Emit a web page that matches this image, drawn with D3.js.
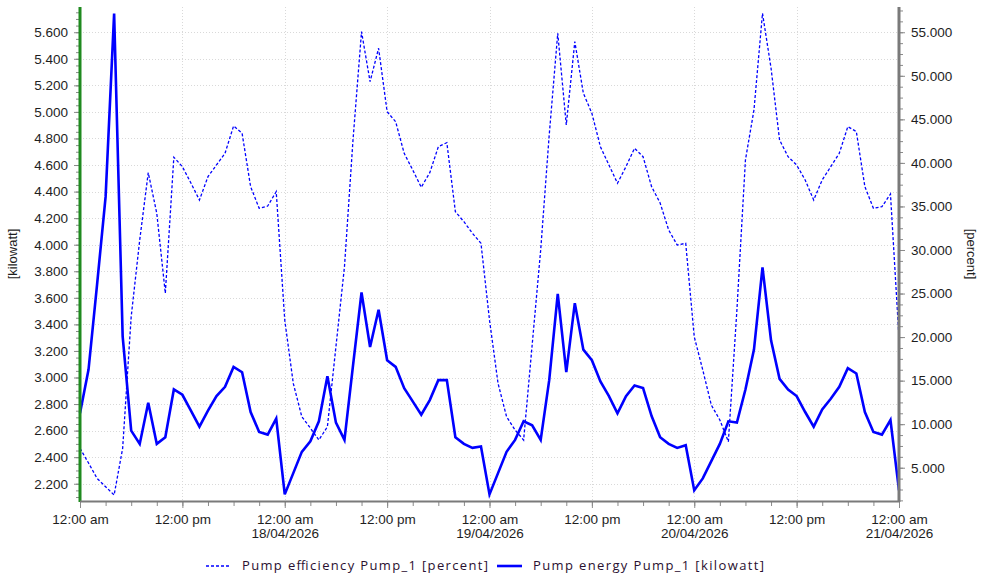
<!DOCTYPE html>
<html>
<head>
<meta charset="utf-8">
<script src="https://cdn.jsdelivr.net/npm/d3@7"></script>
<style>
  body { margin: 0; background: #fff; }
  svg { display: block; }
</style>
</head>
<body>
<svg id="chart" width="982" height="577"></svg>
<script>
// Hourly samples, 17/04/2026 00:00 to 21/04/2026 00:00
const startTime = new Date(2026, 3, 17, 0, 0, 0);
const stepHours = 1;

const energyKw = [
  2.73, 3.06, 3.70, 4.36, 5.74, 3.31, 2.60, 2.50, 2.81, 2.50, 2.55, 2.91,
  2.87, 2.75, 2.63, 2.75, 2.86, 2.93, 3.08, 3.04, 2.74, 2.59, 2.57, 2.69,
  2.12, 2.28, 2.44, 2.52, 2.67, 3.01, 2.66, 2.53, 3.09, 3.64, 3.23, 3.51,
  3.13, 3.08, 2.92, 2.82, 2.72, 2.83, 2.98, 2.98, 2.55, 2.50, 2.47, 2.48,
  2.12, 2.28, 2.44, 2.53, 2.67, 2.64, 2.53, 2.98, 3.63, 3.04, 3.56, 3.21,
  3.13, 2.97, 2.86, 2.73, 2.86, 2.94, 2.92, 2.71, 2.55, 2.50, 2.47, 2.49,
  2.15, 2.24, 2.37, 2.50, 2.67, 2.66, 2.91, 3.21, 3.83, 3.28, 2.99, 2.91,
  2.86, 2.74, 2.63, 2.76, 2.84, 2.93, 3.07, 3.03, 2.74, 2.59, 2.57, 2.68,
  2.15
];

const efficiencyPct = [
  7.23, 5.54, 3.78, 2.82, 1.87, 7.23, 22.34, 31.15, 38.88, 34.21, 25.03, 40.65,
  39.57, 37.69, 35.74, 38.42, 39.76, 41.10, 44.24, 43.40, 37.27, 34.79, 35.05, 36.69,
  21.96, 14.69, 10.86, 9.56, 8.18, 9.71, 18.90, 28.08, 42.63, 55.07, 49.33, 53.16,
  45.88, 44.73, 41.10, 39.19, 37.20, 38.88, 41.86, 42.32, 34.40, 33.25, 31.92, 30.77,
  21.96, 14.69, 10.86, 9.33, 8.18, 19.09, 30.00, 43.21, 54.89, 44.35, 53.92, 48.00,
  45.70, 41.86, 39.76, 37.66, 39.57, 41.68, 40.71, 37.27, 35.40, 32.30, 30.57, 30.77,
  20.04, 16.22, 12.20, 10.48, 7.99, 23.11, 40.34, 46.08, 57.18, 50.90, 42.63, 40.71,
  39.76, 38.04, 35.74, 38.04, 39.57, 41.10, 44.16, 43.59, 37.27, 34.79, 34.97, 36.43,
  19.89
];

const energyTicks = [2.2, 2.4, 2.6, 2.8, 3.0, 3.2, 3.4, 3.6, 3.8, 4.0, 4.2, 4.4, 4.6, 4.8, 5.0, 5.2, 5.4, 5.6];
const efficiencyTicks = [5, 10, 15, 20, 25, 30, 35, 40, 45, 50, 55];
const energyDomain = [2.07, 5.79];
const efficiencyDomain = [1.18, 57.9];
const endTime = new Date(2026, 3, 21, 0, 0, 0);

const seriesNames = ["Pump efficiency Pump_1 [percent]", "Pump energy Pump_1 [kilowatt]"];
const axisTitles = ["[kilowatt]", "[percent]"];

// ---- layout ----
const plot = { left: 80, right: 899, top: 7, bottom: 501 };
const lineBlue = "#0000ff";
const tickFont = "'Liberation Sans', Arial, sans-serif";
const legendFont = "'Open Sans', 'DejaVu Sans', sans-serif";

const svg = d3.select("#chart");

const times = energyKw.map((_, i) => new Date(startTime.getTime() + i * stepHours * 3600e3));

const x = d3.scaleTime().domain([startTime, endTime]).range([plot.left, plot.right]);
const yKw = d3.scaleLinear().domain(energyDomain).range([plot.bottom, plot.top]);
const yPct = d3.scaleLinear().domain(efficiencyDomain).range([plot.bottom, plot.top]);

// ---- grid ----
const grid = svg.append("g").attr("class", "grid")
  .attr("stroke", "#d9d9d9").attr("stroke-width", 1).attr("stroke-dasharray", "1,2");
grid.selectAll("line.h").data(energyTicks).join("line").attr("class", "h")
  .attr("x1", plot.left).attr("x2", plot.right)
  .attr("y1", d => Math.round(yKw(d)) + 0.5).attr("y2", d => Math.round(yKw(d)) + 0.5);
const halfDays = x.ticks(d3.timeHour.every(12)).filter(d => d > startTime && d < endTime);
grid.selectAll("line.v").data(halfDays).join("line").attr("class", "v")
  .attr("y1", plot.top).attr("y2", plot.bottom)
  .attr("x1", d => Math.round(x(d)) + 0.5).attr("x2", d => Math.round(x(d)) + 0.5);

// ---- series ----
const effLine = d3.line().x((d, i) => x(times[i])).y(d => yPct(d));
const kwLine = d3.line().x((d, i) => x(times[i])).y(d => yKw(d));

svg.append("path").datum(efficiencyPct)
  .attr("d", effLine).attr("fill", "none")
  .attr("stroke", lineBlue).attr("stroke-width", 1.3)
  .attr("stroke-dasharray", "3,2");

svg.append("path").datum(energyKw)
  .attr("d", kwLine).attr("fill", "none")
  .attr("stroke", lineBlue).attr("stroke-width", 2.6)
  .attr("stroke-linejoin", "miter");

// ---- axes ----
function styleAxis(g) {
  g.select(".domain").remove();
  g.selectAll(".tick line").attr("stroke", "#8a8a8a");
  g.selectAll(".tick text").attr("fill", "#1e1e1e")
    .style("font-family", tickFont).style("font-size", "13.5px");
}

const fmt3 = d3.format(".3f");

// left (kilowatt)
const leftMinor = d3.range(0, 80).map(i => 2.1 + i * 0.05).filter(v => v >= energyDomain[0] && v <= energyDomain[1]);
svg.append("g").attr("transform", `translate(${plot.left - 1},0)`)
  .call(d3.axisLeft(yKw).tickValues(leftMinor).tickSize(3).tickFormat(""))
  .call(styleAxis);
svg.append("g").attr("transform", `translate(${plot.left - 1},0)`)
  .call(d3.axisLeft(yKw).tickValues(energyTicks).tickSize(5).tickPadding(6).tickFormat(fmt3))
  .call(styleAxis);
svg.append("line")
  .attr("x1", plot.left).attr("x2", plot.left)
  .attr("y1", plot.top).attr("y2", plot.bottom + 1)
  .attr("stroke", "#1f8a1f").attr("stroke-width", 3);

// right (percent)
const rightMinor = d3.range(0, 48).map(i => i * 1.25).filter(v => v >= efficiencyDomain[0] && v <= efficiencyDomain[1]);
svg.append("g").attr("transform", `translate(${plot.right + 1},0)`)
  .call(d3.axisRight(yPct).tickValues(rightMinor).tickSize(3).tickFormat(""))
  .call(styleAxis);
svg.append("g").attr("transform", `translate(${plot.right + 1},0)`)
  .call(d3.axisRight(yPct).tickValues(efficiencyTicks).tickSize(5).tickPadding(6).tickFormat(fmt3))
  .call(styleAxis);
svg.append("line")
  .attr("x1", plot.right).attr("x2", plot.right)
  .attr("y1", plot.top).attr("y2", plot.bottom + 1)
  .attr("stroke", "#7a7a7a").attr("stroke-width", 3);

// bottom (time)
const timeLabel = d3.timeFormat("%I:%M %p");
const dateLabel = d3.timeFormat("%d/%m/%Y");
svg.append("g").attr("transform", `translate(0,${plot.bottom + 1})`)
  .call(d3.axisBottom(x).ticks(d3.timeHour.every(3)).tickSize(4).tickFormat(""))
  .call(styleAxis);
const bottomAxis = svg.append("g").attr("transform", `translate(0,${plot.bottom + 1})`)
  .call(d3.axisBottom(x).ticks(d3.timeHour.every(12)).tickSize(6).tickFormat(""))
  .call(styleAxis);
bottomAxis.selectAll(".tick").each(function (d) {
  const t = d3.select(this).append("text")
    .attr("fill", "#1e1e1e").attr("text-anchor", "middle")
    .style("font-family", tickFont).style("font-size", "13.5px");
  t.append("tspan").attr("x", 0).attr("y", 22).text(timeLabel(d).toLowerCase());
  if (d.getHours() === 0 && d > startTime) {
    t.append("tspan").attr("x", 0).attr("y", 36).text(dateLabel(d));
  }
});
svg.append("line")
  .attr("x1", plot.left).attr("x2", plot.right + 1)
  .attr("y1", plot.bottom + 0.5).attr("y2", plot.bottom + 0.5)
  .attr("stroke", "#7a7a7a").attr("stroke-width", 2);

// axis titles
svg.append("text")
  .attr("transform", `translate(17,254) rotate(-90)`)
  .attr("text-anchor", "middle").attr("fill", "#1e1e1e")
  .style("font-family", tickFont).style("font-size", "13px")
  .text(axisTitles[0]);
svg.append("text")
  .attr("transform", `translate(967,254) rotate(90)`)
  .attr("text-anchor", "middle").attr("fill", "#1e1e1e")
  .style("font-family", tickFont).style("font-size", "13px")
  .text(axisTitles[1]);

// ---- legend ----
const legend = svg.append("g").attr("class", "legend");
const legendItems = [
  { name: seriesNames[0], x: 206, dash: "3,2", width: 1.3, textX: 242, textLen: 246 },
  { name: seriesNames[1], x: 497, dash: null, width: 2.6, textX: 533, textLen: 231 }
];
legendItems.forEach(item => {
  legend.append("line")
    .attr("x1", item.x).attr("x2", item.x + 25)
    .attr("y1", 566).attr("y2", 566)
    .attr("stroke", lineBlue).attr("stroke-width", item.width)
    .attr("stroke-dasharray", item.dash);
  legend.append("text")
    .attr("x", item.textX).attr("y", 570)
    .attr("fill", "#2a1030")
    .attr("textLength", item.textLen).attr("lengthAdjust", "spacing")
    .style("font-family", legendFont).style("font-size", "13px")
    .text(item.name);
});
</script>
</body>
</html>
